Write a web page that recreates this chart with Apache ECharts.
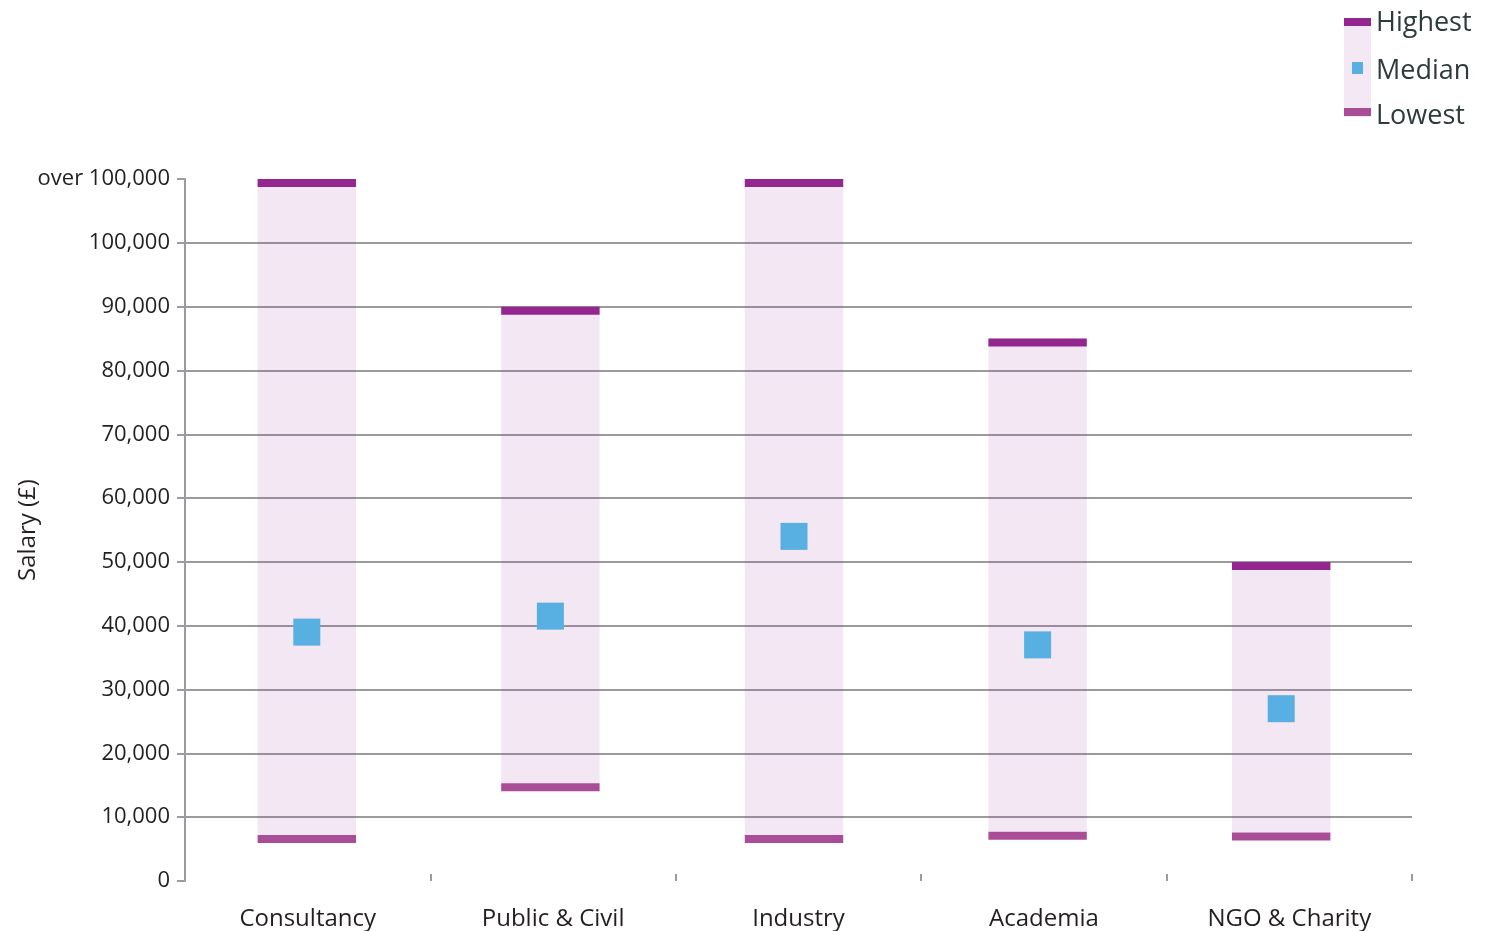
<!DOCTYPE html>
<html>
<head>
<meta charset="utf-8">
<script src="https://cdn.jsdelivr.net/npm/echarts@6/dist/echarts.min.js"></script>
<style>
html,body{margin:0;padding:0;background:#fff;}
#chart{width:1494px;height:931px;}
</style>
</head>
<body>
<div id="chart"></div>
<script>
const categories = ['Consultancy', 'Public & Civil', 'Industry', 'Academia', 'NGO & Charity'];
const highest = [110000, 90000, 110000, 85000, 50000];
const lowest = [7200, 15300, 7200, 7700, 7600];
const median = [39000, 41500, 54000, 37000, 27000];
const yTicks = [0, 10000, 20000, 30000, 40000, 50000, 60000, 70000, 80000, 90000, 100000, 110000];
const yTickLabels = ['0', '10,000', '20,000', '30,000', '40,000', '50,000', '60,000', '70,000', '80,000', '90,000', '100,000', 'over 100,000'];

const FONT = '"Open Sans", "DejaVu Sans", sans-serif';
const HIGH_C = '#93278f', LOW_C = '#a94d97', BODY_C = 'rgba(147,39,143,0.11)', MED_C = '#58b0e2';
const TEXT_C = '#231f20', GRID_C = '#9c9a9f';
const CAP = 8;

const rangeData = categories.map((c, i) => [i, lowest[i], highest[i]]);

const chart = echarts.init(document.getElementById('chart'));
const gridColors = yTicks.map((v, i) => (i === 0 || i === yTicks.length - 1) ? 'rgba(0,0,0,0)' : GRID_C);

chart.setOption({
  animation: false,
  grid: [
    { left: 185, right: 82, top: 179, bottom: 50, outerBoundsMode: 'none', containLabel: false },
    { left: 185, right: 91, top: 179, bottom: 50, outerBoundsMode: 'none', containLabel: false }
  ],
  xAxis: [
    {
      type: 'category',
      gridIndex: 0,
      data: categories,
      boundaryGap: true,
      axisLine: { show: false },
      axisTick: { show: true, inside: true, length: 7, lineStyle: { color: GRID_C, width: 2 } },
      axisLabel: { color: TEXT_C, fontFamily: FONT, fontSize: 24, margin: 26 },
      splitLine: { show: false }
    },
    {
      type: 'category',
      gridIndex: 1,
      data: categories,
      boundaryGap: true,
      show: false
    }
  ],
  yAxis: [
    {
      type: 'value',
      gridIndex: 0,
      min: 0, max: 110000, interval: 10000,
      name: 'Salary (£)',
      nameLocation: 'middle',
      nameGap: 145,
      nameMoveOverlap: false,
      nameRotate: 90,
      nameTextStyle: { color: TEXT_C, fontFamily: FONT, fontSize: 24 },
      axisLine: { show: true, lineStyle: { color: GRID_C, width: 2 } },
      axisTick: { show: true, length: 8, lineStyle: { color: GRID_C, width: 2 } },
      axisLabel: {
        color: TEXT_C, fontFamily: FONT, fontSize: 22, margin: 15,
        formatter: v => yTickLabels[yTicks.indexOf(v)]
      },
      splitLine: { show: true, lineStyle: { color: gridColors, width: 2 } }
    },
    {
      type: 'value',
      gridIndex: 1,
      min: 0, max: 110000, interval: 10000,
      show: false,
      splitLine: { show: false }
    }
  ],
  series: [
    {
      type: 'custom',
      xAxisIndex: 1,
      yAxisIndex: 1,
      data: rangeData,
      z: 3,
      renderItem: function (params, api) {
        const i = api.value(0);
        const lo = api.coord([i, api.value(1)]);
        const hi = api.coord([i, api.value(2)]);
        const w = api.size([1, 0])[0] * 0.404;
        const x = lo[0] - w / 2;
        return {
          type: 'group',
          children: [
            { type: 'rect', shape: { x: x, y: hi[1], width: w, height: lo[1] - hi[1] }, style: { fill: BODY_C } },
            { type: 'rect', shape: { x: x, y: hi[1], width: w, height: CAP }, style: { fill: HIGH_C } },
            { type: 'rect', shape: { x: x, y: lo[1], width: w, height: CAP }, style: { fill: LOW_C } }
          ]
        };
      }
    },
    {
      type: 'scatter',
      xAxisIndex: 1,
      yAxisIndex: 1,
      data: median,
      symbol: 'rect',
      symbolSize: 27,
      z: 4,
      itemStyle: { color: MED_C, opacity: 1 }
    }
  ],
  graphic: [
    { type: 'rect', left: 1344, top: 20, shape: { width: 27, height: 97 }, style: { fill: '#f4e8f4' } },
    { type: 'rect', left: 1344, top: 18, shape: { width: 27, height: 8 }, style: { fill: HIGH_C } },
    { type: 'rect', left: 1344, top: 108, shape: { width: 27, height: 8 }, style: { fill: LOW_C } },
    { type: 'rect', left: 1352, top: 62, shape: { width: 11, height: 12 }, style: { fill: MED_C } },
    { type: 'text', left: 1376, top: 10, style: { text: 'Highest', fill: '#2e3b3b', font: '27px ' + FONT } },
    { type: 'text', left: 1376, top: 58, style: { text: 'Median', fill: '#2e3b3b', font: '27px ' + FONT } },
    { type: 'text', left: 1376, top: 103, style: { text: 'Lowest', fill: '#2e3b3b', font: '27px ' + FONT } }
  ]
});
</script>
</body>
</html>
